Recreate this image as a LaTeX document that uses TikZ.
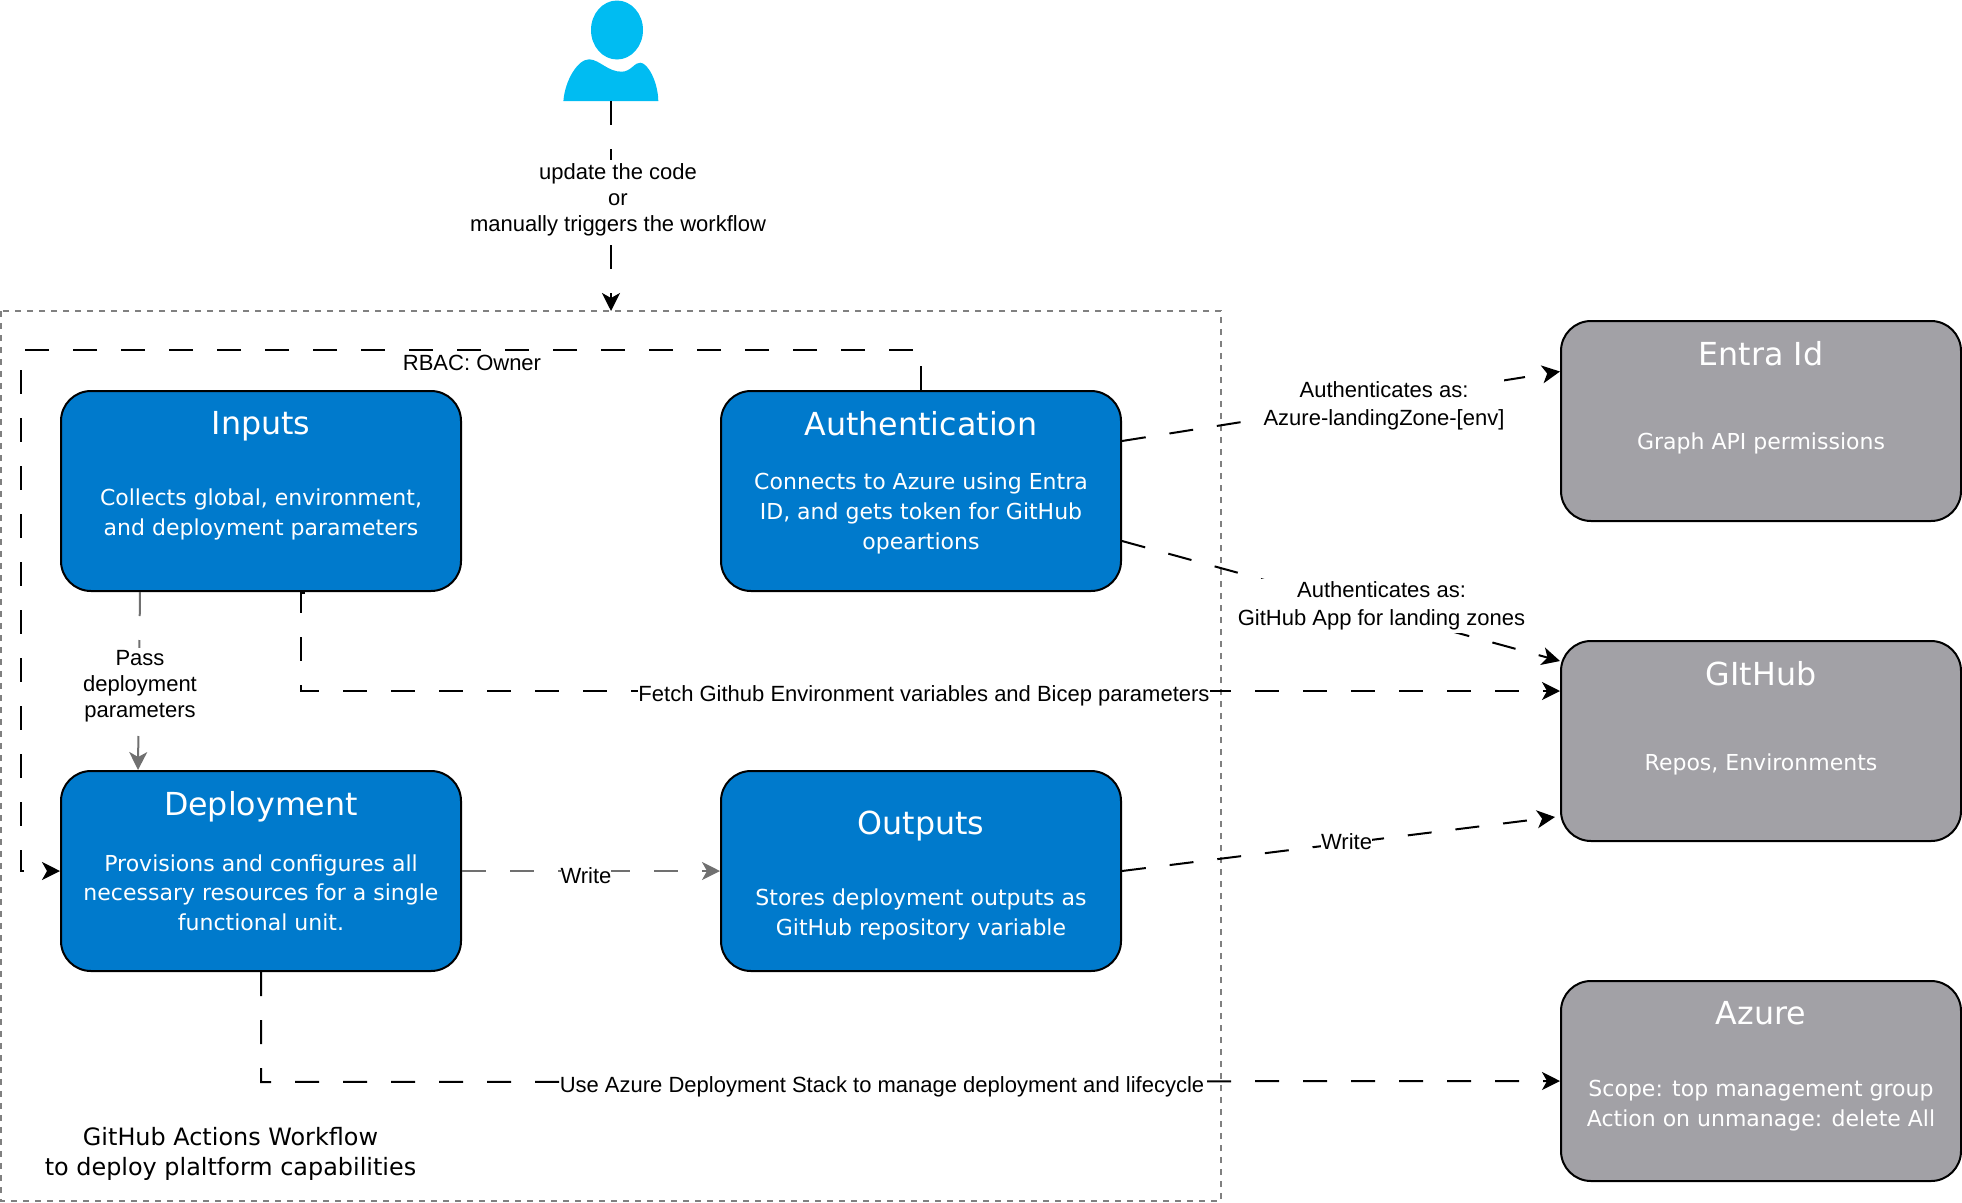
\documentclass[tikz,border=0pt]{standalone}
\usepackage{fontspec}
\usetikzlibrary{arrows.meta,calc}
\setmainfont{Liberation Sans}
\newfontfamily\boxfont{DejaVu Sans}
\definecolor{boxblue}{RGB}{0,122,204}
\definecolor{boxgray}{RGB}{162,161,166}
\definecolor{usercyan}{RGB}{0,188,242}
\definecolor{linegray}{RGB}{112,112,112}
\definecolor{framegray}{RGB}{128,128,128}
\tikzset{
  bluebox/.style={draw=black,line width=2pt,fill=boxblue,rounded corners=30pt,minimum width=400pt,minimum height=200pt,inner sep=0pt},
  graybox/.style={bluebox,fill=boxgray},
  boxtitle/.style={text=white,font=\boxfont\fontsize{31.7}{38}\selectfont,inner sep=0pt,text depth=0pt},
  boxbody/.style={text=white,font=\boxfont\fontsize{22}{29.6}\selectfont,align=center,inner sep=0pt},
  flow/.style={line width=2pt,dash pattern=on 24pt off 24pt,-{Stealth[length=18pt,width=18pt,inset=5pt]}},
  grayflow/.style={flow,draw=linegray},
  edgelabel/.style={fill=white,font=\fontsize{22}{26}\selectfont,align=center,inner xsep=0pt,inner ysep=3pt}
}
\begin{document}
\begin{tikzpicture}[x=1pt,y=-1pt]
\useasboundingbox (0,0) rectangle (1962,1202);

% workflow frame
\draw[draw=framegray,line width=2pt,dash pattern=on 6pt off 6pt] (1,311) rectangle (1221,1201);
\node[font=\boxfont\fontsize{23.9}{30}\selectfont,align=center,inner sep=0pt] (framelabel) at (230.5,1154) {GitHub Actions Workflow\\to deploy plaltform capabilities};

% user
\fill[usercyan] (617,30) ellipse (26pt and 29.5pt);
\fill[usercyan] (563.4,101) .. controls (565,80) and (578,59) .. (589.4,59.3)
  .. controls (600,60) and (608,72) .. (622,71.7)
  .. controls (631,71.5) and (635,62) .. (640.3,62.7)
  .. controls (648,63) and (658,82) .. (658.3,101) -- cycle;
\coordinate (user) at (611,101);
\coordinate (frametop) at (611,311);

% boxes
\node[bluebox] (inputs) at (261,491) {};
\node[boxtitle] (inputstitle) at (261,423) {Inputs};
\node[boxbody] (inputsbody) at (261,514.5) {Collects global, environment,\\and deployment parameters};

\node[bluebox] (auth) at (921,491) {};
\node[boxtitle] (authtitle) at (921,423) {Authentication};
\node[boxbody] (authbody) at (921,513.5) {Connects to Azure using Entra\\ID, and gets token for GitHub\\opeartions};

\node[bluebox] (deploy) at (261,871) {};
\node[boxtitle] (deploytitle) at (261,803) {Deployment};
\node[boxbody] (deploybody) at (261,892.5) {Provisions and configures all\\necessary resources for a single\\functional unit.};

\node[bluebox] (outputs) at (921,871) {};
\node[boxtitle] (outputstitle) at (921,823) {Outputs};
\node[boxbody] (outputsbody) at (921,914.5) {Stores deployment outputs as\\GitHub repository variable};

\node[graybox] (entra) at (1761,421) {};
\node[boxtitle] (entratitle) at (1761,353) {Entra Id};
\node[boxbody] (entrabody) at (1761,443.5) {Graph API permissions};

\node[graybox] (github) at (1761,741) {};
\node[boxtitle] (githubtitle) at (1761,673) {GItHub};
\node[boxbody] (githubbody) at (1761,764) {Repos, Environments};

\node[graybox] (azure) at (1761,1081) {};
\node[boxtitle] (azuretitle) at (1761,1013) {Azure};
\node[boxbody] (azurebody) at (1761,1105.5) {Scope: top management group\\Action on unmanage: delete All};

% connectors
\draw[flow] (user) -- (frametop);
\node[edgelabel] (triggerlabel) at (618,199.5) {update the code\\or\\manually triggers the workflow};

\draw[flow] (auth.north) -- ++(0,-40) -| (21,871) -- (deploy.west);
\node[edgelabel] (rbaclabel) at (472,363) {RBAC: Owner};

\draw[grayflow] ($(inputs.south)+(-121,0)$) -- ($(deploy.north)+(-123,0)$);
\node[edgelabel] (passlabel) at (140,686.5) {Pass\\deployment\\parameters};

\coordinate (fetchstart) at (305,593);
\draw[flow] (fetchstart) -- (301,593) -- (301,691) -- ($(github.west)+(0,-50)$);
\node[edgelabel] (fetchlabel) at (924,695.5) {Fetch Github Environment variables and Bicep parameters};

\draw[grayflow] (deploy.east) -- (outputs.west);
\node[edgelabel] (writelabel) at (586,876) {Write};

\draw[flow] ($(auth.east)+(0,-50)$) -- ($(entra.west)+(0,-49.5)$);
\node[edgelabel,font=\fontsize{22}{28}\selectfont] (entralabel) at (1384,406) {Authenticates as:\\Azure-landingZone-[env]};

\draw[flow] ($(auth.east)+(0,50)$) -- ($(github.west)+(0,-80)$);
\node[edgelabel,font=\fontsize{22}{28}\selectfont] (githublabel) at (1381.5,606) {Authenticates as:\\GitHub App for landing zones};

\draw[flow] (outputs.east) -- ($(github.west)+(-5,76)$);
\node[edgelabel] (outputlabel) at (1346.5,842) {Write};

\draw[flow] (deploy.south) -- ++(0,110) -- (azure.west);
\node[edgelabel] (azurelabel) at (882,1086.5) {Use Azure Deployment Stack to manage deployment and lifecycle};
\end{tikzpicture}
\end{document}
